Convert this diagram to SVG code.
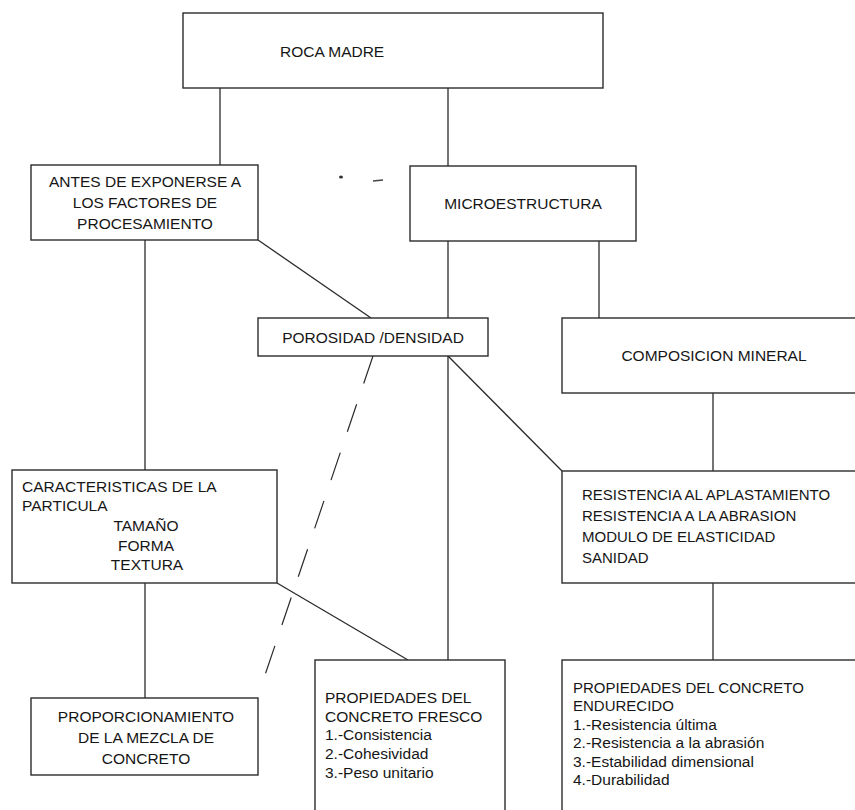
<svg xmlns="http://www.w3.org/2000/svg" width="855" height="810" viewBox="0 0 855 810">
<style>
.box{fill:#fff;stroke:#2b2b2b;stroke-width:1.4}
.ln{stroke:#2b2b2b;stroke-width:1.3;fill:none}
.dash{stroke:#2b2b2b;stroke-width:1.2;fill:none;stroke-dasharray:29 22}
text{font-family:"Liberation Sans",Arial,sans-serif;fill:#161616}
.c{font-size:15.5px}
.r{font-size:15px}
.l{font-size:15.5px}
.m{text-anchor:middle}
</style>
<rect x="0" y="0" width="855" height="810" fill="#fff"/>
<g id="connectors">
<line class="ln" x1="220" y1="88" x2="220" y2="165"/>
<line class="ln" x1="448" y1="88" x2="448" y2="166"/>
<line class="ln" x1="145" y1="240" x2="145" y2="470"/>
<line class="ln" x1="258" y1="240" x2="371" y2="318"/>
<line class="ln" x1="448" y1="241" x2="448" y2="318"/>
<line class="ln" x1="599" y1="241" x2="599" y2="318"/>
<line class="ln" x1="448" y1="356" x2="448" y2="660"/>
<line class="ln" x1="448" y1="356" x2="562" y2="471"/>
<line class="dash" x1="373" y1="356" x2="265" y2="675"/>
<line class="ln" x1="713" y1="393" x2="713" y2="471"/>
<line class="ln" x1="145" y1="583" x2="145" y2="698"/>
<line class="ln" x1="277" y1="583" x2="408" y2="660"/>
<line class="ln" x1="713" y1="583" x2="713" y2="660"/>
</g>
<g id="marks">
<ellipse cx="341" cy="177" rx="2" ry="1.5" fill="#333"/>
<line x1="373" y1="181" x2="383" y2="180" stroke="#444" stroke-width="1.5"/>
</g>
<g id="roca-madre">
<rect class="box" x="183" y="13" width="420" height="75"/>
<text class="c" x="280" y="57">ROCA MADRE</text>
</g>
<g id="antes">
<rect class="box" x="31" y="165" width="227" height="75"/>
<text class="c m" x="145" y="187">ANTES DE EXPONERSE A</text>
<text class="c m" x="145" y="208">LOS FACTORES DE</text>
<text class="c m" x="145" y="229">PROCESAMIENTO</text>
</g>
<g id="microestructura">
<rect class="box" x="410" y="166" width="226" height="75"/>
<text class="c m" x="523" y="209">MICROESTRUCTURA</text>
</g>
<g id="porosidad">
<rect class="box" x="258" y="318" width="230" height="38"/>
<text class="c m" x="373" y="343">POROSIDAD /DENSIDAD</text>
</g>
<g id="composicion">
<rect class="box" x="562" y="318" width="310" height="75"/>
<text class="c m" x="714" y="361">COMPOSICION MINERAL</text>
</g>
<g id="caracteristicas">
<rect class="box" x="12" y="470" width="265" height="113"/>
<text class="c" x="22" y="492">CARACTERISTICAS DE LA</text>
<text class="c" x="22" y="511">PARTICULA</text>
<text class="c m" x="146" y="531">TAMAÑO</text>
<text class="c m" x="146" y="551">FORMA</text>
<text class="c m" x="147" y="570">TEXTURA</text>
</g>
<g id="resistencia">
<rect class="box" x="562" y="471" width="310" height="112"/>
<text class="r" x="582" y="500">RESISTENCIA AL APLASTAMIENTO</text>
<text class="r" x="582" y="521">RESISTENCIA A LA ABRASION</text>
<text class="r" x="582" y="542">MODULO DE ELASTICIDAD</text>
<text class="r" x="582" y="563">SANIDAD</text>
</g>
<g id="proporcionamiento">
<rect class="box" x="31" y="698" width="227" height="77"/>
<text class="c m" x="146" y="722">PROPORCIONAMIENTO</text>
<text class="c m" x="146" y="743">DE LA MEZCLA DE</text>
<text class="c m" x="146" y="764">CONCRETO</text>
</g>
<g id="concreto-fresco">
<rect class="box" x="315" y="660" width="190" height="170"/>
<text class="c" x="325" y="703">PROPIEDADES DEL</text>
<text class="c" x="325" y="722">CONCRETO FRESCO</text>
<text class="l" x="325" y="740">1.-Consistencia</text>
<text class="l" x="325" y="759">2.-Cohesividad</text>
<text class="l" x="325" y="778">3.-Peso unitario</text>
</g>
<g id="concreto-endurecido">
<rect class="box" x="562" y="660" width="310" height="170"/>
<text class="r" x="573" y="693">PROPIEDADES DEL CONCRETO</text>
<text class="r" x="573" y="711">ENDURECIDO</text>
<text class="l" x="573" y="730">1.-Resistencia última</text>
<text class="l" x="573" y="748">2.-Resistencia a la abrasión</text>
<text class="l" x="573" y="767">3.-Estabilidad dimensional</text>
<text class="l" x="573" y="785">4.-Durabilidad</text>
</g>
</svg>
